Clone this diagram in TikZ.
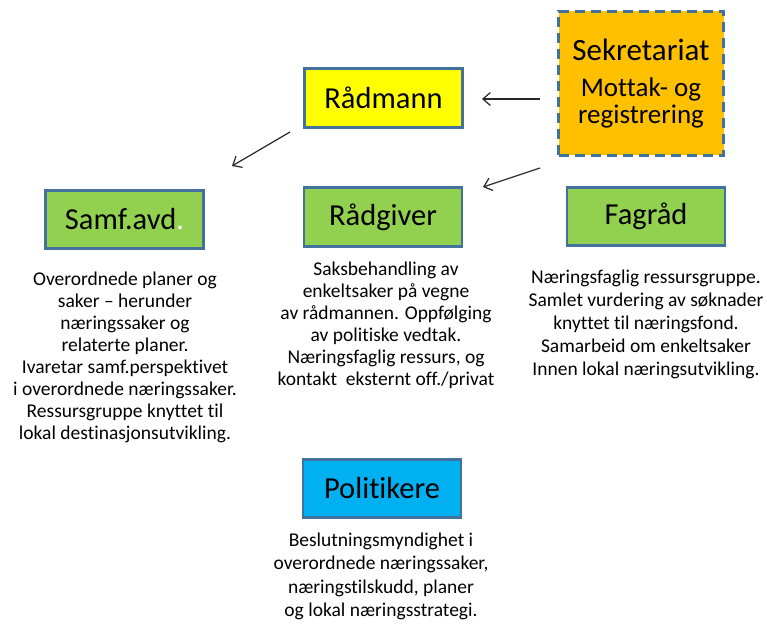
\documentclass[tikz,border=0pt]{standalone}
\usepackage{fontspec}
\setmainfont{Carlito}[Ligatures={NoCommon,NoRequired,NoContextual}]
\usetikzlibrary{arrows.meta}
\definecolor{bord}{HTML}{41719C}
\definecolor{boxyellow}{HTML}{FFFF00}
\definecolor{boxgreen}{HTML}{92D050}
\definecolor{boxblue}{HTML}{00B0F0}
\definecolor{boxorange}{HTML}{FFC000}
\definecolor{arrowgray}{HTML}{262626}
\tikzset{
  box/.style={draw=bord, line width=2.6pt, inner sep=0pt, minimum width=158pt, minimum height=58.5pt,
    font=\fontsize{30.5}{30.5}\selectfont},
  dashbox/.style={draw=bord, line width=3pt, inner sep=0pt, dash pattern=on 10pt off 6pt,
    fill=boxorange, minimum width=165pt, minimum height=144pt, align=center,
    font=\fontsize{27}{27}\selectfont},
  body/.style={align=center, inner sep=0pt},
  conn/.style={draw=arrowgray, line width=1.2pt, -{Straight Barb[length=7.5pt,width=13pt,line width=1.2pt]}},
}
\begin{document}
\begin{tikzpicture}[x=1pt,y=-1pt]
\useasboundingbox (0,0) rectangle (767,628);
% boxes
\node[box, fill=boxyellow] (rad) at (383.5,98) {Rådmann};
\node[box, fill=boxgreen] (samf) at (124.5,219.5) {Samf.avd\textcolor{white}{.}};
\node[box, fill=boxgreen] (radg) at (383,217) {Rådgiver};
\node[box, fill=boxgreen] (fag) at (646,216.5) {Fagråd};
\node[box, fill=boxblue] (pol) at (382,488.5) {Politikere};
\node[dashbox] (sek) at (641,83.5) {{\fontsize{31}{31}\selectfont Sekretariat}\\[9pt]Mottak- og\\registrering};
% descriptions
\node[body, font=\fontsize{19.5}{22}\selectfont] (samfTxt) at (125,357.5)
  {Overordnede planer og\\saker – herunder\\næringssaker og\\relaterte planer.\\Ivaretar samf.perspektivet\\i overordnede næringssaker.\\Ressursgruppe knyttet til\\lokal destinasjonsutvikling.};
\node[body, font=\fontsize{19.5}{22}\selectfont] (radgTxt) at (386,325)
  {Saksbehandling av\\enkeltsaker på vegne\\av rådmannen. Oppfølging\\av politiske vedtak.\\Næringsfaglig ressurs, og\\kontakt\ \ eksternt off./privat};
\node[body, font=\fontsize{19.5}{23}\selectfont] (fagTxt) at (646,324)
  {Næringsfaglig ressursgruppe.\\Samlet vurdering av søknader\\knyttet til næringsfond.\\Samarbeid om enkeltsaker\\Innen lokal næringsutvikling.};
\node[body, font=\fontsize{19.5}{23.5}\selectfont] (polTxt) at (381,576.5)
  {Beslutningsmyndighet i\\overordnede næringssaker,\\næringstilskudd, planer\\og lokal næringsstrategi.};
% connector ends
\coordinate (a1s) at (540,99);
\coordinate (a1e) at (482,99);
\coordinate (a2s) at (540,168);
\coordinate (a2e) at (483,187);
\coordinate (a3s) at (290,132);
\coordinate (a3e) at (232,166);
\draw[conn] (a1s) -- (a1e);
\draw[conn] (a2s) -- (a2e);
\draw[conn] (a3s) -- (a3e);
\end{tikzpicture}
\end{document}
